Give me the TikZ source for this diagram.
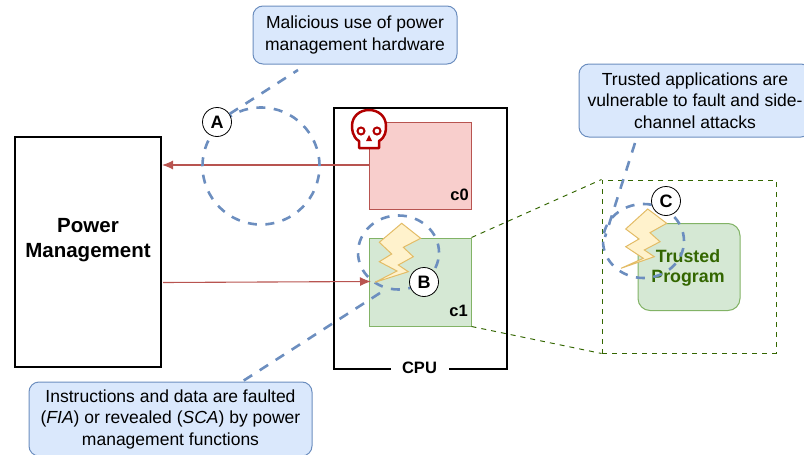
\documentclass[tikz,border=0pt]{standalone}
\usepackage{fontspec}
\setmainfont{Liberation Sans}
\usetikzlibrary{arrows.meta,shapes.geometric}
\definecolor{bluefill}{HTML}{DAE8FC}
\definecolor{blueline}{HTML}{6C8EBF}
\definecolor{redfill}{HTML}{F8CECC}
\definecolor{redline}{HTML}{B85450}
\definecolor{greenfill}{HTML}{D5E8D4}
\definecolor{greenline}{HTML}{82B366}
\definecolor{darkgreen}{HTML}{336600}
\definecolor{boltfill}{HTML}{FFF2CC}
\definecolor{boltline}{HTML}{E3BC66}
\definecolor{skull}{HTML}{B20000}
\tikzset{
  x=1pt,y=-1pt,
  callout/.style={draw=blueline,fill=bluefill,rounded corners=10pt,line width=1pt,align=center,inner sep=0pt,font=\fontsize{17.5}{21.5}\selectfont},
  blackbox/.style={draw=black,fill=white,line width=1.2pt,inner sep=0pt},
  core/.style={line width=1.2pt,inner sep=0pt},
  badge/.style={circle,draw=black,fill=white,line width=.8pt,minimum size=29pt,inner sep=0pt,font=\fontsize{18}{18}\selectfont\bfseries},
  ring/.style={draw=blueline,line width=2.6pt,dash pattern=on 9pt off 8.5pt},
  lead/.style={draw=blueline,line width=2.6pt,dash pattern=on 10pt off 9pt},
  flow/.style={draw=redline,line width=1.1pt,-{Latex[length=11pt,width=9pt]}},
  zoomline/.style={draw=darkgreen,line width=.95pt,dash pattern=on 5pt off 5pt},
  bolt/.style={draw=boltline,fill=boltfill,line width=1pt,line join=miter},
}
\begin{document}
\begin{tikzpicture}
\useasboundingbox (0,0) rectangle (804,455);
\clip (0,0) rectangle (804,455);
% boxes
\node[blackbox,minimum width=146pt,minimum height=230pt] (pm) at (88,252) {};
\node[align=center,inner sep=0pt,font=\fontsize{20.5}{24.5}\selectfont\bfseries] (pml) at (88,240) {Power\\Management};
\node[blackbox,minimum width=173pt,minimum height=261pt] (cpu) at (420.5,238.5) {};
\node[fill=white,inner sep=0pt,minimum width=58pt,minimum height=16pt,font=\fontsize{16.5}{16}\selectfont\bfseries] (cpulabel) at (419.5,368) {CPU};
\node[core,draw=redline,fill=redfill,minimum width=102pt,minimum height=87pt] (c0) at (420.5,166) {};
\node[core,draw=greenline,fill=greenfill,line width=1pt,minimum width=102pt,minimum height=88pt] (c1) at (420,282) {};
\node[anchor=south east,inner sep=0pt,font=\fontsize{16.5}{16}\selectfont\bfseries] (c0l) at (469,201) {c0};
\node[anchor=south east,inner sep=0pt,font=\fontsize{16.5}{16}\selectfont\bfseries] (c1l) at (468,317) {c1};
% zoom
\node[zoomline,minimum width=174pt,minimum height=173pt,inner sep=0pt] (zoomed) at (689,266.5) {};
\draw[zoomline] (c1.north east) -- (zoomed.north west);
\draw[zoomline] (c1.south east) -- (zoomed.south west);
\node[draw=greenline,fill=greenfill,line width=1pt,rounded corners=12pt,minimum width=102pt,minimum height=87pt,inner sep=0pt] (tp) at (689,267) {};
\node[inner sep=0pt,align=center,text=darkgreen,font=\fontsize{17.8}{20}\selectfont\bfseries] (tpl) at (688,268) {Trusted\\Program};
% flows
\coordinate (pmin) at (162,165);
\coordinate (pmout) at (163,282.5);
\coordinate (c1in) at (371,281.5);
\draw[flow] (c0.west |- 0,165) -- (pmin);
\draw[flow] (pmout) -- (c1in);
% rings
\node[circle,ring,minimum size=117pt,inner sep=0pt] (ra) at (261,166) {};
\node[ellipse,ring,minimum width=81pt,minimum height=74pt,inner sep=0pt] (rb) at (398.5,252.5) {};
\node[ellipse,ring,minimum width=81pt,minimum height=74pt,inner sep=0pt] (rc) at (643.5,241) {};
% bolts
\draw[bolt] (401.7,223.3) -- (420.7,238.3) -- (403.3,247.3) -- (413.3,256.7) -- (398.3,265) -- (408.3,271.7) -- (375,282.3) -- (397,271) -- (379.3,261.7) -- (391.7,254) -- (379.3,242.3) -- cycle;
\draw[bolt] (647.7,209) -- (666.7,223.3) -- (650,232.7) -- (660,241.7) -- (644.3,250) -- (654.3,256.7) -- (621,268.3) -- (643.3,258.3) -- (625.7,246.7) -- (639,239) -- (625.7,229) -- cycle;
% callouts
\node[callout,minimum width=204pt,minimum height=58pt] (ca) at (355,35) {Malicious use of power\\management hardware};
\node[callout,minimum width=232pt,minimum height=73pt] (cc) at (695,100.5) {Trusted applications are\\vulnerable to fault and side-\\channel attacks};
\node[callout,minimum width=283pt,minimum height=74pt] (cb) at (170.5,419) {Instructions and data are faulted\\(\textit{FIA}) or revealed (\textit{SCA}) by power\\management functions};
% leads
\coordinate (la) at (298,70);
\coordinate (lb) at (243,381);
\coordinate (lbend) at (380,293);
\coordinate (lc) at (635,143);
\coordinate (lcend) at (605,237);
\node[badge] (A) at (217,122) {A};
\node[badge] (B) at (424,282) {B};
\node[badge] (C) at (666,201) {C};
\draw[lead] (A) -- (la);
\draw[lead] (lbend) -- (lb);
\draw[lead] (lc) -- (lcend);
% skull
\begin{scope}[shift={(369,129)}]
\draw[skull,line width=2.5pt,fill=white,line join=round] (-10,12) .. controls (-17,8) and (-17,-1) .. (-17,-3) .. controls (-17,-13) and (-9,-19) .. (0,-19) .. controls (9,-19) and (17,-13) .. (17,-3) .. controls (17,1) and (17,8) .. (10,12) -- (10,19) -- (-10,19) -- cycle;
\draw[skull,line width=2pt] (-8,2) circle (3.5);
\draw[skull,line width=2pt] (8,2) circle (3.5);
\fill[skull] (0,6) -- (3,12) -- (-3,12) -- cycle;
\end{scope}
\end{tikzpicture}
\end{document}
